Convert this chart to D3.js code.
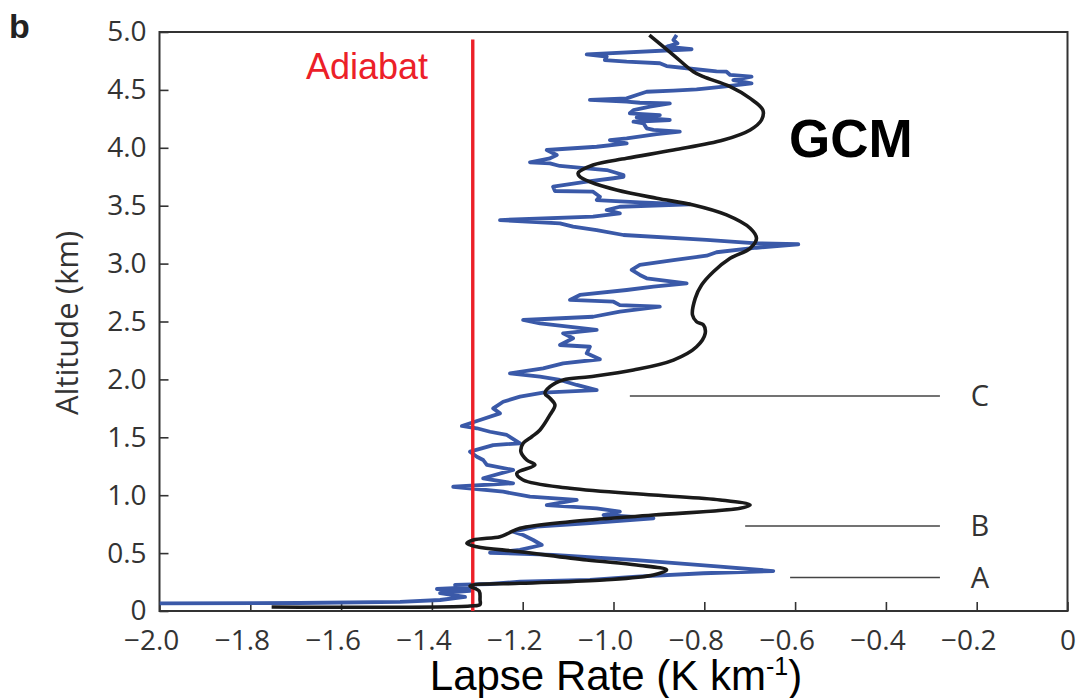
<!DOCTYPE html>
<html><head><meta charset="utf-8">
<script src="https://cdn.jsdelivr.net/npm/d3@7"></script>
<style>
html,body{margin:0;padding:0;background:#fff;}
svg{display:block;}
</style></head>
<body>
<svg id="c" width="1080" height="698"></svg>
<script>
// ---- data ----
const xTicks = [-2.0,-1.8,-1.6,-1.4,-1.2,-1.0,-0.8,-0.6,-0.4,-0.2,0];
const yTicks = [0,0.5,1.0,1.5,2.0,2.5,3.0,3.5,4.0,4.5,5.0];
const adiabatLapse = -1.31;
const adiabatTop = 4.935;

const obsLapse = [-2.000,-1.691,-1.470,-1.382,-1.327,-1.382,-1.316,-1.389,-1.305,-1.349,-1.272,-1.206,-1.052,-0.949,-0.802,-0.648,-0.765,-0.949,-1.133,-1.272,-1.206,-1.158,-1.177,-1.199,-1.221,-1.169,-1.059,-0.912,-1.022,-0.986,-1.037,-1.147,-1.081,-1.184,-1.243,-1.353,-1.221,-1.287,-1.221,-1.279,
-1.287,-1.301,-1.316,-1.265,-1.206,-1.235,-1.272,-1.301,-1.334,-1.294,-1.25,-1.265,-1.243,-1.206,-1.155,-1.037,-1.081,-1.118,-1.162,-1.228,-1.155,-1.111,-1.030,-1.059,-1.052,-1.118,-1.089,-1.111,-1.037,-1.133,-1.162,-1.199,-1.045,-0.986,-0.898,-0.986,-1.000,-1.096,-1.074,-0.971,-0.912,-0.839,-0.927,-0.942,-0.960,-0.942,-0.868,-0.795,-0.773,-0.685,-0.593,-0.685,-0.795,-0.978,-1.037,-1.089,-1.118,-1.250,-1.045,-0.986,-1.015,-0.986,-0.832,-0.942,-1.037,-1.030,-1.045,-1.129,-1.133,-1.059,-1.000,-0.978,-0.978,-1.015,-1.059,-1.118,-1.140,-1.184,-1.140,-1.125,-1.147,-1.037,-0.971,-1.008,-0.971,-0.905,-0.854,-0.912,-0.927,-0.934,-0.956,-0.876,-0.949,-0.898,-0.964,-0.956,-0.920,-0.876,-0.942,-0.971,-1.052,-0.971,-0.949,-0.927,-0.868,-0.817,-0.795,-0.758,-0.696,-0.736,-0.696,-0.743,-0.751,-0.773,-0.839,-0.883,-0.898,-0.971,-1.019,-1.015,-1.059,-0.828,-0.883,-0.859,-0.868,-0.861];
const obsAlt = [0.065,0.069,0.078,0.095,0.121,0.155,0.173,0.190,0.207,0.225,0.233,0.253,0.268,0.296,0.326,0.345,0.383,0.440,0.484,0.503,0.527,0.570,0.613,0.656,0.685,0.728,0.757,0.801,0.829,0.858,0.887,0.915,0.959,0.987,1.030,1.073,1.103,1.146,1.218,1.261,
1.304,1.332,1.376,1.433,1.448,1.520,1.548,1.578,1.598,1.649,1.707,1.750,1.807,1.851,1.885,1.908,1.952,1.995,2.023,2.053,2.096,2.139,2.174,2.225,2.282,2.297,2.355,2.398,2.427,2.470,2.484,2.513,2.541,2.585,2.628,2.642,2.671,2.686,2.729,2.772,2.801,2.830,2.873,2.902,2.945,2.988,3.031,3.068,3.098,3.137,3.167,3.175,3.204,3.247,3.290,3.319,3.348,3.376,3.405,3.434,3.463,3.491,3.512,3.529,3.549,3.578,3.621,3.627,3.664,3.707,3.737,3.750,3.765,3.808,3.823,3.843,3.866,3.875,3.909,3.938,3.981,4.009,4.039,4.067,4.082,4.119,4.139,4.154,4.168,4.212,4.225,4.240,4.263,4.283,4.298,4.326,4.355,4.384,4.389,4.398,4.413,4.427,4.456,4.484,4.493,4.505,4.514,4.528,4.557,4.585,4.614,4.629,4.657,4.660,4.687,4.706,4.730,4.744,4.758,4.787,4.807,4.851,4.873,4.902,4.931,4.974];

const gcmLapse = [-1.753,-1.316,-1.294,-1.294,-1.296,-1.316,-1.206,-1.022,-0.912,-0.883,-0.949,-1.059,-1.206,-1.301,-1.323,-1.309,-1.25,-1.232,-1.206,-1.096,-0.912,-0.721,-0.699,-0.765,-0.912,-1.096,-1.199,-1.213,-1.173,-1.191,-1.204,-1.199,-1.18,-1.162,-1.14,-1.129,-1.14,-1.151,-1.14,-1.111,-1.052,-0.956,-0.868,-0.817,-0.798,-0.802,-0.817,-0.826,-0.820,-0.806,-0.780,-0.743,-0.699,-0.685,-0.699,-0.751,-0.824,-0.905,-0.993,-1.052,-1.074,-1.078,-1.045,-0.971,-0.868,-0.758,-0.699,-0.674,-0.671,-0.699,-0.743,-0.802,-0.824,-0.868,-0.921];
const gcmAlt = [0.035,0.043,0.056,0.095,0.173,0.216,0.239,0.268,0.311,0.354,0.397,0.440,0.512,0.555,0.585,0.613,0.642,0.671,0.714,0.771,0.829,0.887,0.915,0.959,1.002,1.060,1.131,1.189,1.261,1.304,1.376,1.448,1.505,1.563,1.693,1.779,1.837,1.880,1.937,1.995,2.023,2.081,2.167,2.282,2.398,2.470,2.498,2.556,2.700,2.815,2.930,3.046,3.132,3.218,3.305,3.420,3.506,3.564,3.636,3.707,3.750,3.780,3.851,3.909,3.981,4.067,4.154,4.240,4.326,4.427,4.528,4.614,4.657,4.801,4.974];

const annotLabels = ["A","B","C"];
const annotAlt = [0.289,0.734,1.857];
const annotStart = [-0.611,-0.710,-0.964];
const annotEnd = -0.281;
const annotLabelX = -0.193;

(function(){
// ---- layout ----
const svg = d3.select("#c");
const pL = 159.5, pR = 1067.5, pT = 32, pB = 611;
const x = d3.scaleLinear().domain([-2,0]).range([pL,pR]);
const y = d3.scaleLinear().domain([0,5]).range([pB,pT]);
const tickFont = "'Open Sans', sans-serif";
const ink = "#333";

// axes
const xAxis = svg.append("g").attr("transform",`translate(0,${pB})`)
  .call(d3.axisBottom(x).tickValues(xTicks).tickSizeInner(-9).tickSizeOuter(0).tickPadding(19)
    .tickFormat(d => d === 0 ? "0" : "\u2212" + Math.abs(d).toFixed(1)));
xAxis.select(".domain").remove();
xAxis.selectAll(".tick line").attr("stroke",ink).attr("stroke-width",1.6);
xAxis.selectAll(".tick text").attr("font-family",tickFont).attr("font-size",28).attr("fill",ink)
  .attr("dx", d => d < 0 ? "-0.3em" : 0);

const yAxis = svg.append("g").attr("transform",`translate(${pL},0)`)
  .call(d3.axisLeft(y).tickValues(yTicks).tickSizeInner(-9).tickSizeOuter(0).tickPadding(13)
    .tickFormat(d => d === 0 ? "0" : d.toFixed(1)));
yAxis.select(".domain").remove();
yAxis.selectAll(".tick line").attr("stroke",ink).attr("stroke-width",1.6);
yAxis.selectAll(".tick text").attr("font-family",tickFont).attr("font-size",28).attr("fill",ink);

// frame
svg.append("rect").attr("x",pL).attr("y",pT).attr("width",pR-pL).attr("height",pB-pT)
  .attr("fill","none").attr("stroke",ink).attr("stroke-width",2);

// clip
svg.append("clipPath").attr("id","plotclip").append("rect")
  .attr("x",pL).attr("y",pT).attr("width",pR-pL).attr("height",pB-pT);

// observed (blue)
const obs = d3.zip(obsLapse, obsAlt);
svg.append("path").datum(obs).attr("clip-path","url(#plotclip)")
  .attr("fill","none").attr("stroke","#3a59a8").attr("stroke-width",3.8).attr("stroke-linejoin","round")
  .attr("d", d3.line().x(d=>x(d[0])).y(d=>y(d[1])));

// adiabat
svg.append("line").attr("x1",x(adiabatLapse)).attr("x2",x(adiabatLapse))
  .attr("y1",y(adiabatTop)).attr("y2",y(0)).attr("stroke","#ec2028").attr("stroke-width",3.4);

// GCM (black)
const gcm = d3.zip(gcmLapse, gcmAlt);
svg.append("path").datum(gcm).attr("clip-path","url(#plotclip)")
  .attr("fill","none").attr("stroke","#1a1a1a").attr("stroke-width",3.6).attr("stroke-linejoin","round")
  .attr("d", d3.line().curve(d3.curveCatmullRom.alpha(0.5)).x(d=>x(d[0])).y(d=>y(d[1])));

// annotations A B C
annotLabels.forEach((lab,i) => {
  svg.append("line").attr("x1",x(annotStart[i])).attr("x2",x(annotEnd))
    .attr("y1",y(annotAlt[i])).attr("y2",y(annotAlt[i])).attr("stroke","#444").attr("stroke-width",1.6);
  svg.append("text").attr("x",x(annotLabelX)).attr("y",y(annotAlt[i]))
    .attr("dy","0.36em").attr("text-anchor","middle")
    .attr("font-family",tickFont).attr("font-size",29).attr("fill",ink).text(lab);
});

// texts
svg.append("text").attr("x",306).attr("y",79).attr("font-family","'Liberation Sans', Arial, sans-serif")
  .attr("font-size",36).attr("fill","#ec2028").text("Adiabat");
svg.append("text").attr("x",789).attr("y",157).attr("font-family","'Liberation Sans', Arial, sans-serif")
  .attr("font-size",53).attr("font-weight","bold").attr("fill","#000").text("GCM");
svg.append("text").attr("x",9).attr("y",38).attr("font-family","'Liberation Sans', Arial, sans-serif")
  .attr("font-size",34).attr("font-weight","bold").attr("fill","#222").text("b");

svg.append("text").attr("transform","translate(78,323) rotate(-90)").attr("text-anchor","middle")
  .attr("font-family",tickFont).attr("font-size",31).attr("fill",ink).text("Altitude (km)");

const xt = svg.append("text").attr("x",616).attr("y",690).attr("text-anchor","middle")
  .attr("font-family","'Liberation Sans', Arial, sans-serif").attr("font-size",42).attr("fill","#000");
xt.append("tspan").text("Lapse Rate (K km");
xt.append("tspan").attr("font-size",25).attr("dy",-15).text("-1");
xt.append("tspan").attr("dy",15).text(")");
})();
</script>
</body></html>
